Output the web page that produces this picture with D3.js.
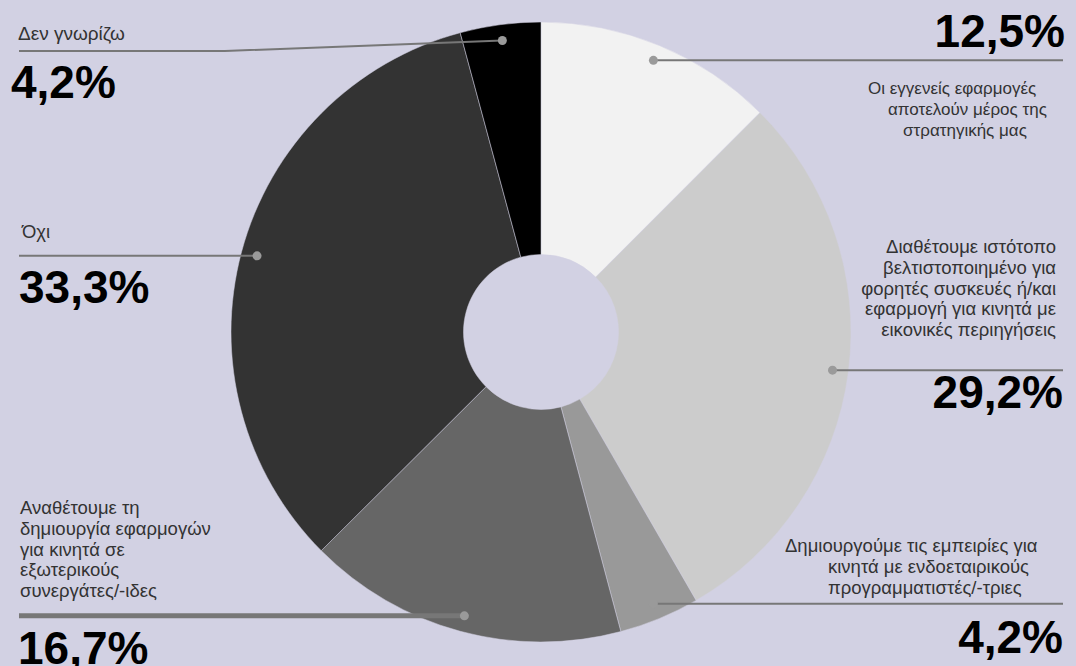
<!DOCTYPE html>
<html>
<head>
<meta charset="utf-8">
<script src="https://cdn.jsdelivr.net/npm/d3@7"></script>
<style>
  html, body { margin: 0; padding: 0; background: #d2d1e3; }
  svg { display: block; font-family: "Liberation Sans", Arial, sans-serif; }
</style>
</head>
<body>
<div id="chart"></div>
<script>
// values, clockwise from 12 o'clock
const categories = [
  "Οι εγγενείς εφαρμογές\nαποτελούν μέρος της\nστρατηγικής μας",
  "Διαθέτουμε ιστότοπο\nβελτιστοποιημένο για\nφορητές συσκευές ή/και\nεφαρμογή για κινητά με\nεικονικές περιηγήσεις",
  "Δημιουργούμε τις εμπειρίες για\nκινητά με ενδοεταιρικούς\nπρογραμματιστές/-τριες",
  "Αναθέτουμε τη\nδημιουργία εφαρμογών\nγια κινητά σε\nεξωτερικούς\nσυνεργάτες/-ιδες",
  "Όχι",
  "Δεν γνωρίζω"
];
const shares = [12.5, 29.2, 4.2, 16.7, 33.3, 4.2];
const sliceColors = ["#f2f2f2", "#cccccc", "#999999", "#666666", "#333333", "#000000"];

// label placement: line end x, text block position, percent position
const labelLayout = [
  { lineX: 1063, textX: [868, 888, 903], textAnchor: "start", textY: 94, size: 17, pctX: 1065, pctAnchor: "end", pctY: 47 },
  { lineX: 1063, textX: [1056], textAnchor: "end", textY: 253, size: 18.5, pctX: 1063, pctAnchor: "end", pctY: 408 },
  { lineX: 1063, textX: [785, 828, 828], textAnchor: "start", textY: 552, size: 18.5, pctX: 1063, pctAnchor: "end", pctY: 653 },
  { lineX: 19, textX: [20], textAnchor: "start", textY: 514, size: 18.5, pctX: 18, pctAnchor: "start", pctY: 664, thick: true },
  { lineX: 19, textX: [22], textAnchor: "start", textY: 238, size: 18.5, pctX: 19, pctAnchor: "start", pctY: 303 },
  { lineX: 19, textX: [18], textAnchor: "start", textY: 40, size: 19, pctX: 11, pctAnchor: "start", pctY: 98, kink: { x: 225, y: 51 } }
];

const width = 1076, height = 666;
const cx = 541, cy = 332, outerR = 310, innerR = 77.5, dotR = 294;
const lineH = 20.8;

const fmt = v => d3.format(".1f")(v).replace(".", ",") + "%";

const svg = d3.select("#chart").append("svg")
  .attr("width", width)
  .attr("height", height);

svg.append("rect").attr("width", width).attr("height", height).attr("fill", "#d2d1e3");

const pie = d3.pie().sort(null).value(d => d.value);
const arcs = pie(shares.map((v, i) => ({ value: v, name: categories[i], i })));

const arc = d3.arc().innerRadius(innerR).outerRadius(outerR);
const dotArc = d3.arc().innerRadius(dotR).outerRadius(dotR);

const g = svg.append("g").attr("transform", `translate(${cx},${cy})`);

g.selectAll("path.slice")
  .data(arcs)
  .enter()
  .append("path")
  .attr("class", "slice")
  .attr("d", arc)
  .attr("fill", d => sliceColors[d.data.i])
  .attr("stroke", "#d2d1e3")
  .attr("stroke-width", 0.5);

// leader lines + labels
arcs.forEach(d => {
  const L = labelLayout[d.data.i];
  const [dx, dy] = dotArc.centroid(d);
  const px = cx + dx, py = cy + dy;

  let pts;
  if (L.kink) {
    pts = [[px, py], [L.kink.x, L.kink.y], [L.lineX, L.kink.y]];
  } else {
    pts = [[px, py], [L.lineX, py]];
  }
  svg.append("path")
    .attr("d", d3.line()(pts))
    .attr("fill", "none")
    .attr("stroke", "#777777")
    .attr("stroke-width", L.thick ? 5 : 2);

  svg.append("circle")
    .attr("cx", px)
    .attr("cy", py)
    .attr("r", 4.5)
    .attr("fill", "#9a9a9a");

  const lines = d.data.name.split("\n");
  const t = svg.append("text")
    .attr("font-size", L.size)
    .attr("fill", "#333333")
    .attr("text-anchor", L.textAnchor);
  lines.forEach((ln, k) => {
    t.append("tspan")
      .attr("x", L.textX[Math.min(k, L.textX.length - 1)])
      .attr("y", L.textY + k * lineH)
      .text(ln);
  });

  svg.append("text")
    .attr("x", L.pctX)
    .attr("y", L.pctY)
    .attr("text-anchor", L.pctAnchor)
    .attr("font-size", 46)
    .attr("font-weight", "bold")
    .attr("fill", "#000000")
    .text(fmt(d.data.value));
});
</script>
</body>
</html>
